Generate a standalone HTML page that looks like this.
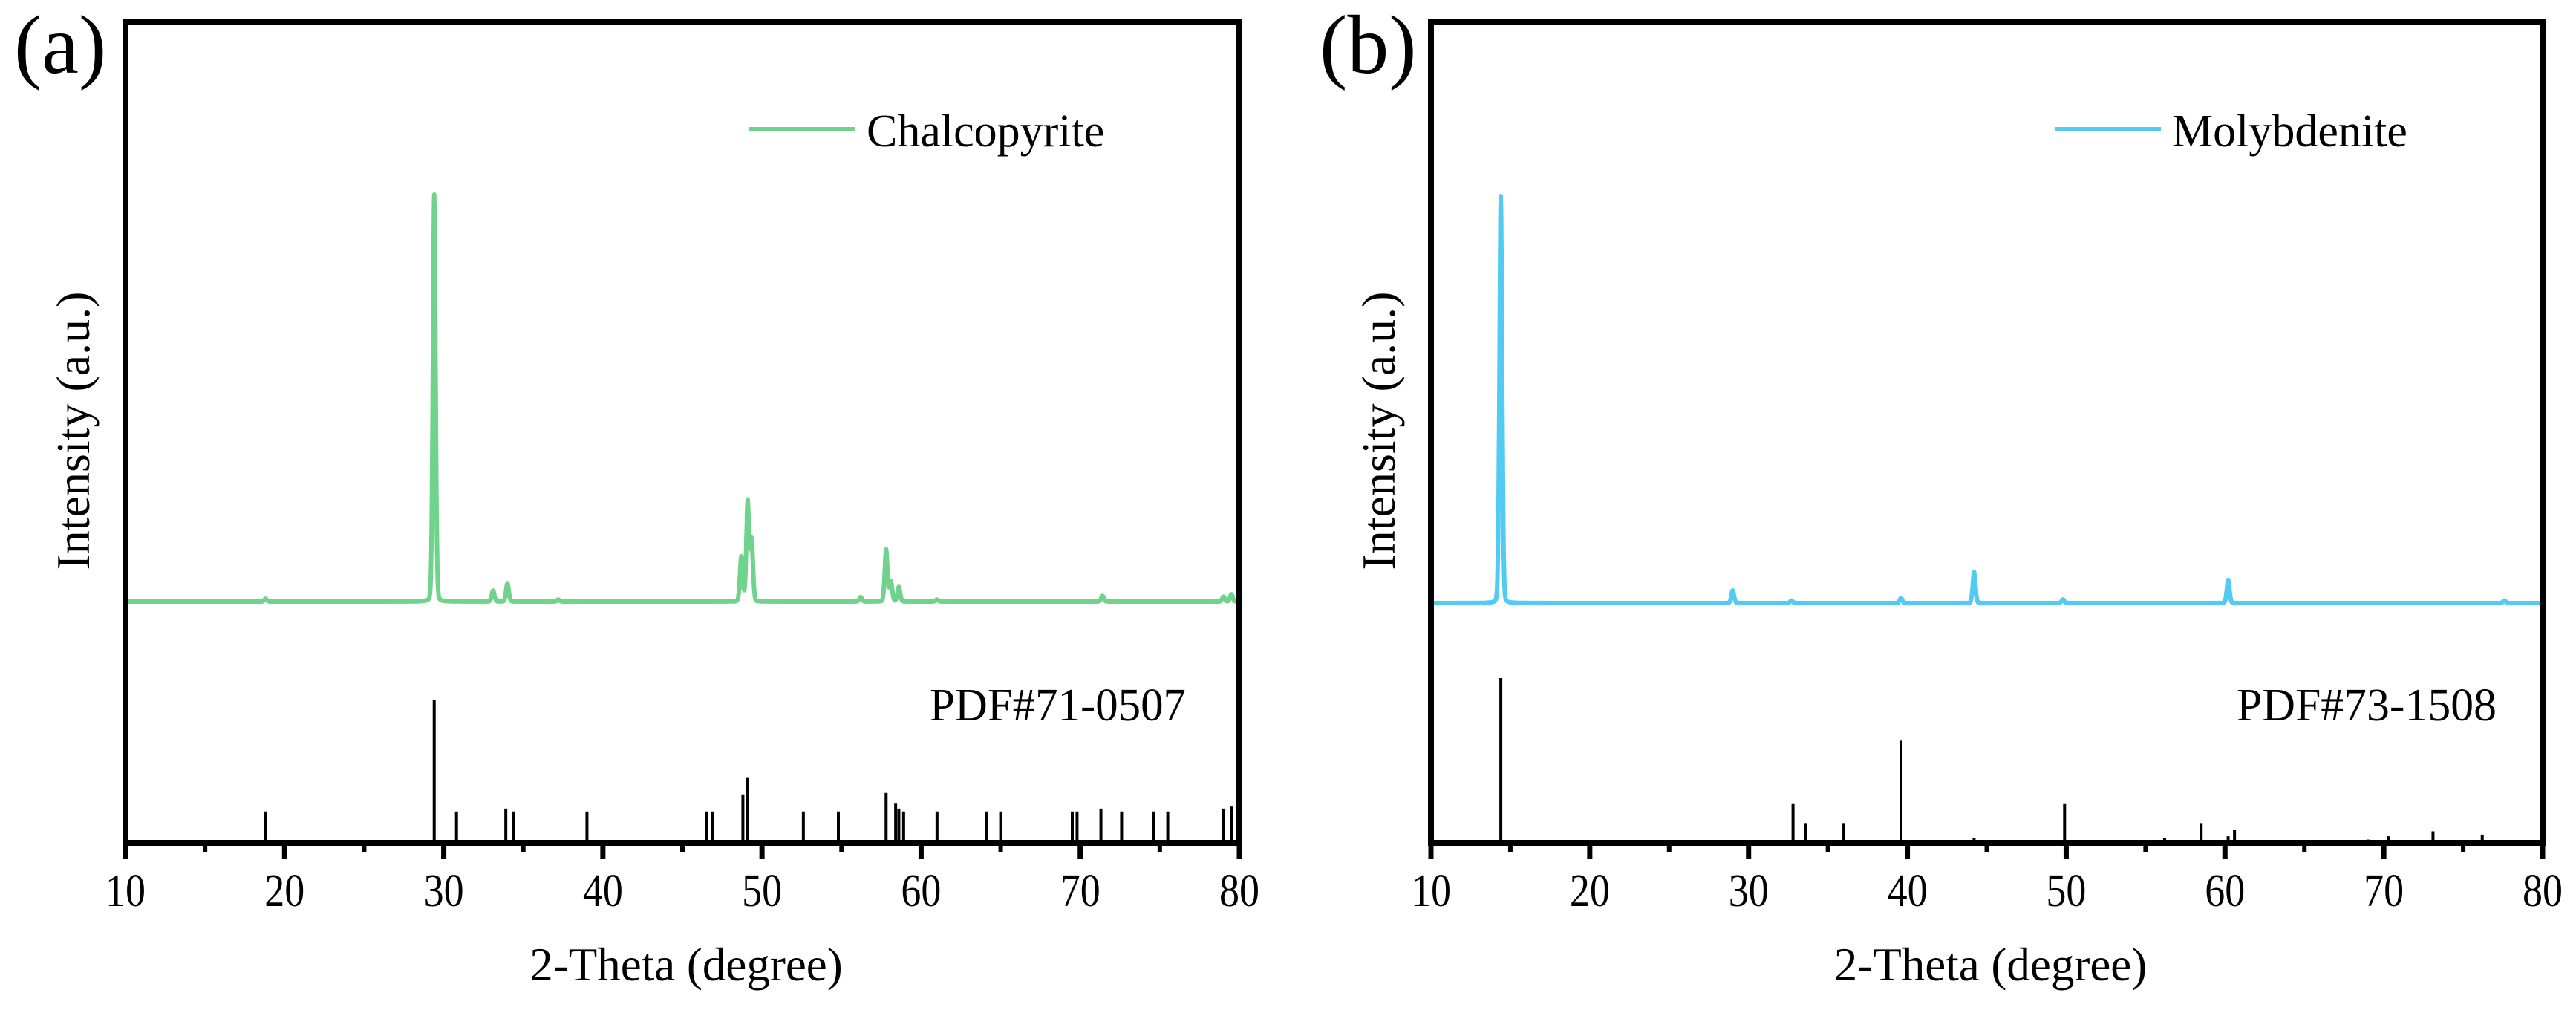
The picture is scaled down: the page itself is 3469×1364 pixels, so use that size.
<!DOCTYPE html>
<html><head><meta charset="utf-8"><style>
html,body{margin:0;padding:0;background:#fff;}
svg{display:block;font-family:"Liberation Serif","Times New Roman",serif;}
</style></head><body>
<svg id="fig" width="3469" height="1364" viewBox="0 0 3469 1364" xmlns="http://www.w3.org/2000/svg">
<rect width="3469" height="1364" fill="#fff"/>
</svg>
<script>
// ---- Data ----
const xTicks = [10,20,30,40,50,60,70,80];
const xMinor = [15,25,35,45,55,65,75];
// Chalcopyrite measured pattern peaks (position, relative intensity)
const chalPeakPos = [18.8,29.4,33.1,34.0,37.2,48.7,49.1,49.35,56.2,57.8,58.1,58.6,61.0,71.4,79.0,79.5];
const chalPeakInt = [0.7,100,2.7,4.5,0.5,11,24.6,15,1.1,12.8,5,3.6,0.5,1.4,1.2,1.8];
// Chalcopyrite reference PDF#71-0507 sticks
const chalRefPos = [18.8,29.4,30.8,33.9,34.4,39.0,46.5,46.9,48.8,49.1,52.6,54.8,57.8,58.4,58.6,58.9,61.0,64.1,65.0,69.5,69.8,71.3,72.6,74.6,75.5,79.0,79.5];
const chalRefInt = [22,100,22,24,22,22,22,22,34,46,22,22,35,28,24,22,22,22,22,22,22,24,22,22,22,24,26];
// Molybdenite measured pattern peaks
const molyPeakPos = [14.4,29.0,32.7,39.6,44.2,49.8,60.2,77.6];
const molyPeakInt = [100,3.1,0.6,1.2,7.6,0.9,5.7,0.6];
// Molybdenite reference PDF#73-1508 sticks
const molyRefPos = [14.4,29.1,32.8,33.6,36.0,39.6,44.2,49.9,56.2,58.5,60.2,60.6,69.0,70.3,73.1,76.2];
const molyRefInt = [100,1,24,12,12,62,3,24,3,12,4,8,2,4,7,5];

const NS = "http://www.w3.org/2000/svg";
const svg = document.getElementById('fig');
function mk(tag, attrs, parent){
  const e = document.createElementNS(NS, tag);
  for (const k in attrs) e.setAttribute(k, attrs[k]);
  (parent||svg).appendChild(e);
  return e;
}
function profile(d, pos, ints){
  let s = 0;
  for (let i=0;i<pos.length;i++){
    const dx = d-pos[i];
    const g = Math.exp(-dx*dx/(2*0.09*0.09));
    const l = 0.06*0.06/(dx*dx+0.06*0.06);
    s += ints[i]*(0.8*g+0.2*l);
  }
  return s;
}

function panel(cfg){
  const g = mk('g', {});
  
  
  const L = cfg.L, W = cfg.W, T = 29, B = 1135;
  const x = d => L + (d-10)/70*W;
  const yTrace = v => cfg.base - v*cfg.traceScale;
  const yStick = v => B - v*cfg.stickScale;

  // trace
  let dstr = '';
  for (let d=10; d<=80.0001; d+=0.02){
    const v = profile(d, cfg.peakPos, cfg.peakInt);
    dstr += (dstr?'L':'M') + x(d).toFixed(1) + ' ' + yTrace(v).toFixed(1);
  }
  const tr = mk('path', {d:dstr, fill:'none', stroke:cfg.color, 'stroke-width':6, 'stroke-linejoin':'round'}, g);
  
  

  // sticks
  const sg = mk('g', {}, g);
  
  
  for (let i=0;i<cfg.refPos.length;i++){
    const s = mk('line', {x1:x(cfg.refPos[i]), x2:x(cfg.refPos[i]), y1:B, y2:yStick(cfg.refInt[i]), stroke:'#000', 'stroke-width':4}, sg);
    
    
  }

  // frame
  const fr = mk('rect', {x:L, y:T, width:W, height:B-T, fill:'none', stroke:'#000', 'stroke-width':8}, g);
  
  

  // ticks
  xTicks.forEach(t=>{
    const tk = mk('line', {x1:x(t), x2:x(t), y1:B, y2:B+22, stroke:'#000', 'stroke-width':7}, g);
    
    
    const lb = mk('text', {x:x(t), y:1220, 'font-size':62, 'text-anchor':'middle', textLength:54, lengthAdjust:'spacingAndGlyphs'}, g);
    lb.textContent = String(t);
    
    
  });
  xMinor.forEach(t=>{
    const tk = mk('line', {x1:x(t), x2:x(t), y1:B, y2:B+12, stroke:'#000', 'stroke-width':6}, g);
    
    
  });

  // axis titles
  const xt = mk('text', {x:L+W/2+5, y:1320, 'font-size':63, 'text-anchor':'middle'}, g);
  xt.textContent = '2-Theta (degree)';
  
  
  const yt = mk('text', {x:0, y:0, 'font-size':64, 'text-anchor':'middle', transform:`translate(${L-49},580) rotate(-90)`}, g);
  yt.textContent = 'Intensity (a.u.)';
  
  

  // panel label
  const pl = mk('text', {x:L-150, y:98, 'font-size':112}, g);
  pl.textContent = cfg.label;
  
  

  // legend
  const lg = mk('g', {}, g);
  
  
  mk('line', {x1:L+840, x2:L+983, y1:174, y2:174, stroke:cfg.color, 'stroke-width':6}, lg);
  const lt = mk('text', {x:L+998, y:197, 'font-size':62}, lg);
  lt.textContent = cfg.legend;

  // pdf label
  const pd = mk('text', {x:cfg.pdfX, y:970, 'font-size':62, textLength:cfg.pdfW, lengthAdjust:'spacingAndGlyphs'}, g);
  pd.textContent = cfg.pdf;
  
  
}

panel({name:'panel-a-chalcopyrite', L:169, W:1500, base:810, traceScale:5.48, stickScale:1.92,
  color:'#6fd38c', peakPos:chalPeakPos, peakInt:chalPeakInt, refPos:chalRefPos, refInt:chalRefInt,
  traceName:'chalcopyrite-trace', label:'(a)', legend:'Chalcopyrite', pdf:'PDF#71-0507', pdfX:1252, pdfW:345});
panel({name:'panel-b-molybdenite', L:1927, W:1497, base:812, traceScale:5.48, stickScale:2.22,
  color:'#52cbf3', peakPos:molyPeakPos, peakInt:molyPeakInt, refPos:molyRefPos, refInt:molyRefInt,
  traceName:'molybdenite-trace', label:'(b)', legend:'Molybdenite', pdf:'PDF#73-1508', pdfX:3012, pdfW:350});
</script>
</body></html>
